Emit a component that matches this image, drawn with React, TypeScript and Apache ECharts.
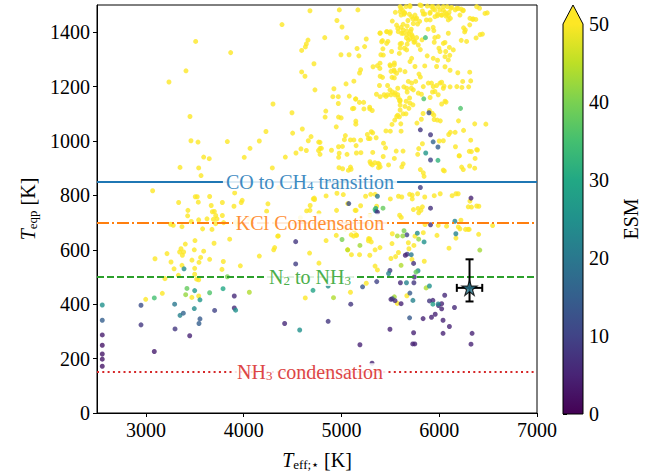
import React, { useEffect, useRef } from "react";
import * as echarts from "echarts";

// ---------- data ----------
const xTicks = [3000, 4000, 5000, 6000, 7000];
const yTicks = [0, 200, 400, 600, 800, 1000, 1200, 1400];
const esmTicks = [0, 10, 20, 30, 40, 50];

// planets with ESM above the colour-bar maximum (>= 50): [Teff, Teq]
const highEsmPlanets: [number, number][] = [
  [4978,1482],[5168,1482],[4954,1443],[5006,1419],[4829,1380],[5054,1380],[5254,1375],[5237,1347],[4995,1317],[5078,1317],
  [5178,1313],[5396,1397],[5466,1402],[5500,1402],[5420,1369],[5475,1366],[5424,1339],[5403,1317],[5520,1441],[5551,1473],
  [5610,1488],[5625,1480],[5645,1472],[5600,1476],[5660,1494],[5700,1498],[5640,1466],[5695,1466],[5680,1443],[5730,1449],
  [5760,1448],[5576,1414],[5610,1418],[5631,1429],[5672,1423],[5714,1411],[5668,1405],[5631,1396],[5693,1394],[5720,1390],
  [5735,1373],[5700,1377],[5665,1379],[5742,1363],[5672,1356],[5645,1341],[5600,1342],[5600,1357],[5769,1380],[5824,1372],
  [5807,1336],[5955,1380],[5949,1363],[5997,1341],[6059,1362],[6104,1344],[6066,1329],[6108,1315],[5983,1297],[5877,1313],
  [5852,1276],[6059,1273],[6111,1260],[6190,1251],[6280,1366],[6225,1370],[6249,1416],[6260,1401],[6267,1408],[6312,1427],
  [6346,1449],[6374,1447],[6377,1379],[6418,1391],[6442,1393],[6491,1471],[6412,1488],[6225,1485],[6243,1479],[6180,1488],
  [6164,1482],[6118,1488],[6101,1473],[6114,1451],[6094,1461],[6073,1466],[6059,1473],[6025,1463],[5983,1461],[5955,1482],
  [5921,1494],[5990,1494],[6042,1494],[6007,1482],[5852,1467],[5907,1473],[5938,1485],[5828,1478],[5817,1498],[5869,1445],
  [5907,1445],[5779,1430],[5886,1411],[5938,1418],[5945,1406],[5770,1452],[5800,1440],
  [5600,1494],[5610,1463],[5646,1470],[5701,1494],[5718,1457],[5735,1432],[5752,1463],[5803,1500],[5837,1467],[5878,1496],
  [5905,1469],[5939,1494],[5956,1457],[5984,1467],[6024,1463],[6042,1481],[6069,1459],[6082,1494],[6093,1445],[6127,1491],
  [6195,1487],[6212,1463],[6246,1481],[6314,1451],[6342,1447],[6383,1494],[6468,1469],
  [5564,1426],[5581,1402],[5615,1396],[5632,1408],[5667,1390],[5684,1371],[5707,1402],[5728,1384],[5752,1365],[5786,1353],
  [5615,1359],[5592,1322],[5667,1335],[5701,1292],[5718,1304],[5752,1274],[5496,1396],[5462,1402],[5394,1396],[5411,1365],
  [5462,1359],[5513,1329],[5428,1316],[5394,1286],[5496,1280],[5537,1261],[5564,1249],[5598,1261],[5650,1255],
  [5684,1219],[5718,1213],[5667,1194],[5735,1188],[5786,1176],[5837,1200],[5888,1213],[5939,1200],[6008,1213],[6042,1194],
  [5496,1188],[5547,1170],[5598,1151],[5650,1127],[5701,1139],[5990,1384],[6042,1359],[6093,1396],[6144,1335],[6008,1329],
  [6059,1310],[6093,1298],[5939,1304],[5973,1274],
  [4678,1479],[4392,1428],[3509,1366],[3867,1325],[4658,1371],[4641,1357],[4631,1346],[4593,1333],[4719,1284],[4593,1254],
  [4627,1238],[3410,1258],[3236,1217],[4729,1188],[4300,1136],[4494,1104],[3451,1090],[5080,1165],[5185,1250],[5160,1340],
  [5323,1273],[5368,1277],[5393,1267],[5196,1262],[5127,1220],[5047,1210],[4923,1192],[4912,1163],[4968,1163],[4968,1138],
  [5144,1154],[5184,1142],[5227,1142],[5289,1124],[5358,1172],[5396,1163],[5420,1234],[5396,1238],[5500,1276],[5541,1280],
  [5507,1256],[5541,1256],[5517,1234],[5541,1232],[5541,1287],[5389,1204],[5472,1204],[5437,1170],[5472,1170],[5506,1170],
  [5455,1164],[5576,1194],[5596,1147],[5600,1132],[5576,1170],[5520,1180],[5550,1177],[5580,1160],[6025,1136],[6059,1146],
  [6070,1143],[5907,1160],[5931,1180],[5807,1235],[5793,1246],[5714,1194],[5759,1219],[5638,1199],[5672,1180],[5600,1148],
  [5662,1146],[5697,1158],[5731,1133],[5818,1172],[5956,1182],[5990,1170],[5973,1204],[5921,1213],[6025,1216],[6049,1202],
  [6111,1199],[6180,1200],[6232,1197],[6240,1219],[6301,1199],[6322,1221],[6312,1253],[5147,1155],[5113,1119],[5230,1118],
  [5600,1114],[5690,1120],
  [4840,1110],[4970,1088],[4997,1085],[5147,1073],[5147,1062],[4947,1052],[4833,1088],[5127,1120],[5290,1118],[5315,1112],
  [4781,995],[4781,973],[5040,1020],[5030,1005],[5092,1004],[5127,1004],[4970,979],[5010,980],[4898,966],[4977,955],
  [4971,940],[5057,951],[5150,983],[5153,956],[5196,1003],[5199,957],[5265,1024],[5305,1034],[5320,1030],[5275,1009],
  [5292,1009],[5355,1012],[5430,992],[5320,958],[5455,1037],[5500,1036],[5545,1077],[5565,1090],[5593,1089],[5576,1095],
  [5631,1100],[5660,1100],[5607,1063],[5610,1036],[5517,1061],[5560,963],[5630,963],[5541,936],[5631,916],[5617,905],
  [5482,912],[5427,943],[5451,975],[5386,915],[5396,905],[5375,918],[5292,924],[5299,917],[5316,912],[5341,920],
  [5379,902],[4975,902],[5012,898],[5071,892],[5099,896],[5092,904],[4795,973],[4781,951],[5772,1066],[5817,1080],
  [5835,1101],[5900,1112],[5928,1102],[5945,1095],[5980,1077],[6011,1074],[5948,1079],[5780,951],[5807,895],[5790,972],
  [5828,990],[6000,1000],[6042,1001],[6097,1024],[6114,1032],[6163,1032],[6197,1074],[6249,1039],[6322,1003],[6363,1063],
  [6477,1062],[6166,979],[6204,945],[6329,961],[6391,967],[6367,936],[6229,904],[6311,908],[6363,900],[6052,890],
  [5845,870],[6307,962],[6383,968],[6205,946],[6246,895],[6041,893],[5837,883],
  [4228,1035],[4501,1029],[4600,1044],[4689,1016],[4661,1001],[4767,996],[3461,1001],[3533,996],[3833,998],[4160,1000],
  [4065,973],[4586,971],[4641,965],[4535,956],[4766,965],[3591,941],[3648,935],[4006,940],[4426,941],[3349,903],
  [3540,901],[3564,873],[4293,901],
  [3069,817],[4061,829],[4358,829],[3505,795],[3525,795],[3652,796],[3335,774],[3908,809],[3782,774],[3975,774],
  [3985,782],[3901,760],[4712,787],[4725,785],[4680,763],[4644,743],[3536,775],[3430,745],[3680,740],[4057,714],
  [4235,742],[4248,769],[4580,718],[4678,745],[4722,790],[4770,736],[4978,836],[5019,803],[5040,677],[5131,673],
  [5150,745],[5291,726],[5267,693],[5278,641],[5155,653],[5290,580],[5394,608],[5506,568],[5554,575],[5684,626],
  [5752,650],[5837,663],[5721,565],[5847,558],[5990,690],[6075,687],[6212,677],[6222,709],[6294,675],[6403,657],
  [6297,758],[6314,779],[6383,761],[6171,806],[6010,806],[4354,651],[4317,608],
  [3253,694],[3369,685],[3427,725],[3464,704],[3580,677],[3625,714],[3676,675],[3700,741],[3714,726],[3727,714],
  [3782,726],[3795,700],[3668,763],[3280,690],[3540,710],[3690,712],[3713,696],[3918,702],[3938,693],
  [4843,798],[4954,808],[5064,770],[5196,762],[5247,797],[5299,804],[5344,804],[5500,787],[5583,797],[5617,794],
  [5697,804],[5724,801],[5724,787],[5779,806],[5852,794],[5949,799],[6132,799],[6194,806],[6330,757],[6405,760],
  [5783,752],[5828,758],[5360,760],[5140,745],[4950,745],
  [3093,567],[3195,494],[3257,555],[3288,530],[3332,506],[3216,586],[3345,592],[3359,604],[3386,592],[3373,580],
  [3403,621],[3502,634],[3495,600],[3471,562],[3369,543],[3499,532],[3499,510],[3543,554],[3560,572],[3591,595],
  [3652,565],[3697,624],[3792,557],[3778,528],[3857,639],[3966,541],[4160,577],[4307,600],[4348,650],[4674,588],
  [4770,551],[3540,430],[3519,492],[3540,490],[2998,418],[3168,440],[4630,423],[3470,425],
  [4843,634],[4947,653],[5100,655],[5125,650],[5150,655],[5290,640],[5276,633],[5305,629],[5517,623],[5064,600],
  [5102,582],[5185,582],[5344,600],[5583,590],[5741,616],[5690,604],[6100,606],[5520,659],[5977,653],[5344,540],
  [5368,526],[5254,477],[5092,444],[5572,403],[5669,431],[6171,643],[6546,689],[6195,684],[6269,675],[6306,675],
  [5855,693],[5595,727],[5612,719],[5790,736],[5813,745],[5736,748]
];

// planets with ESM below 50: [Teff, Teq, ESM]
const lowEsmPlanets: [number, number, number][] = [
  [2554,397,25],[2554,341,15],[2554,287,4],[2554,249,3],[2554,217,3],[2554,198,3],[2554,172,3],
  [2950,396,12],[2950,324,8],[3086,226,4],[3086,423,35],[3294,400,20],[3298,309,8],[3349,359,22],[3383,367,16],
  [3448,284,5],[3420,458,38],[3407,435,42],[3390,530,24],[3499,450,27],[3495,384,24],[3553,416,26],[3553,346,14],
  [3543,329,15],[3652,442,36],[3703,377,10],[3789,457,30],[3833,501,40],[3904,430,6],[3904,386,6],[3918,378,25],
  [4058,444,44],[4419,329,6],[4573,305,25],[4532,630,8],[4532,548,9],[4709,451,29],
  [5859,1380,35],[5842,1155,36],[6218,1120,36],[5895,1104,12],[5807,1041,8],[5911,1023,8],[5938,997,16],[5987,978,15],
  [5862,956,26],[5911,930,10],[5987,929,32],[5807,829,9],[6325,790,5],[5911,753,7],[5368,797,20],[5075,770,12],
  [5351,752,30],[5425,753,38],[5343,748,36],[5353,742,22],
  [5368,738,7],[6160,705,22],[5911,692,7],[6170,659,22],[5776,661,24],[5845,629,25],[5669,655,10],[5627,651,42],
  [5572,651,44],[5640,670,40],[5790,639,42],[5006,638,40],[5189,616,43],[5063,600,45],[5672,584,9],[5714,582,20],
  [5653,580,5],[6415,599,43],[5738,550,7],[5610,543,44],[5496,524,9],[5482,513,22],[5783,523,24],[5762,518,38],
  [5745,500,6],[5361,483,10],[5216,464,13],[5603,479,6],[5665,479,22],[5741,479,8],[5866,460,44],[5900,467,25],
  [4919,424,44],[5095,400,8],[5541,427,43],[5520,420,12],[5506,418,6],[5548,413,6],[5610,402,5],[5700,441,14],
  [5731,414,22],[5935,414,6],[5900,412,8],[5935,400,28],[5993,395,6],[6025,402,5],[6056,433,6],[6025,383,5],
  [6156,388,6],[4864,467,24],[5990,401,22],
  [4864,337,8],[5697,350,14],[5835,347,5],[5921,352,5],[5959,363,5],[6039,341,5],[6104,318,5],[5496,308,5],
  [5738,295,5],[6039,293,5],[6336,293,5],[5189,251,5],[5729,254,5],[5750,254,5],[6325,253,5],[5313,183,5]
];

// target planet with error bars
const targetTeff = 6310;
const targetTeq = 460;
const targetEsm = 20;
const targetTeffErr = [130, 130]; // [minus, plus]
const targetTeqErr = [50, 105]; // [minus, plus]

// chemical transition lines
const lineLevels = [850, 700, 500, 150];
const lineLabels = [
  "{t|CO to CH}{s|4}{t| transition}",
  "{t|KCl Condensation}",
  "{t|N}{s|2}{t| to NH}{s|3}",
  "{t|NH}{s|3}{t| condensation}",
];

// ---------- styles ----------
const lineColors = ["#1f77b4", "#ff7f0e", "#2ca02c", "#d62728"];
const labelColors = ["#3f8bc2", "#ff9035", "#4cb04c", "#dd4646"];
const lineDashes: any[] = ["solid", [12, 3, 2, 3], [7, 3], [2, 3.3]];
const FONT = "Liberation Serif, DejaVu Serif, serif";

const VIRIDIS = [
  "#440154", "#482475", "#414487", "#355f8d", "#2a788e", "#21918c",
  "#22a884", "#44bf70", "#7ad151", "#bddf26", "#fde725",
];

function hexToRgb(h: string) {
  return [parseInt(h.slice(1, 3), 16), parseInt(h.slice(3, 5), 16), parseInt(h.slice(5, 7), 16)];
}
function viridis(t: number) {
  const c = Math.max(0, Math.min(1, t)) * (VIRIDIS.length - 1);
  const i = Math.min(Math.floor(c), VIRIDIS.length - 2);
  const f = c - i;
  const a = hexToRgb(VIRIDIS[i]);
  const b = hexToRgb(VIRIDIS[i + 1]);
  const m = a.map((v, k) => Math.round(v + (b[k] - v) * f));
  return `rgb(${m[0]},${m[1]},${m[2]})`;
}
const ESM_MAX = 50;

const STAR =
  "path://M50,0 L61.8,35.4 L99,35.4 L69,57.3 L80.4,92.7 L50,70.8 L19.6,92.7 L31,57.3 L1,35.4 L38.2,35.4 Z";

const plain = (v: number) => String(v);

export default function App() {
  const ref = useRef<HTMLDivElement>(null);
  useEffect(() => {
    if (!ref.current) return;
    const chart = echarts.init(ref.current, undefined, { renderer: "svg" });

    const highData = highEsmPlanets.map((p) => ({
      value: [p[0], p[1]],
      itemStyle: { color: viridis(1) },
    }));
    const lowData = lowEsmPlanets.map((p) => ({
      value: [p[0], p[1]],
      itemStyle: { color: viridis(p[2] / ESM_MAX) },
    }));

    const nameRich = {
      t: { fontSize: 20, fontFamily: FONT, color: "#000" },
      s: { fontSize: 13, fontFamily: FONT, color: "#000", padding: [9, 0, 0, 0] },
      i: { fontSize: 20, fontFamily: FONT, color: "#000", fontStyle: "italic" },
    };

    const markLineData = lineLevels.map((lv, k) => ({
      yAxis: lv,
      lineStyle: { color: lineColors[k], type: lineDashes[k], width: 2 },
      label: {
        show: true,
        position: "insideMiddle",
        distance: 0,
        offset: [-7, 0],
        formatter: lineLabels[k],
        color: labelColors[k],
        fontFamily: FONT,
        fontSize: 20,
        backgroundColor: "rgba(255,255,255,0.85)",
        padding: [0, 3, 0, 3],
        rich: {
          t: { fontSize: 20, fontFamily: FONT, color: labelColors[k], lineHeight: 18 },
          s: { fontSize: 13, fontFamily: FONT, color: labelColors[k], lineHeight: 11, padding: [7, 0, 0, 0] },
        },
      },
    }));

    const option: any = {
      animation: false,
      backgroundColor: "#fff",
      textStyle: { fontFamily: FONT },
      grid: [
        { left: 97, top: 5, width: 440, height: 409, show: true, borderColor: "#000", borderWidth: 1, backgroundColor: "transparent" },
        { left: 563, top: 24, width: 20, height: 390 },
      ],
      xAxis: [
        {
          type: "value",
          min: 2500,
          max: 7000,
          gridIndex: 0,
          axisLine: { show: true, lineStyle: { color: "#000", width: 1 } },
          axisTick: { show: true, customValues: xTicks, length: 4, lineStyle: { color: "#000" } },
          axisLabel: { customValues: xTicks, formatter: plain, color: "#000", fontSize: 20, fontFamily: FONT, margin: 7 },
          splitLine: { show: false },
          name: "{i|T}{s|eff;⋆}{t| [K]}",
          nameLocation: "middle",
          nameGap: 36,
          nameTextStyle: { color: "#000", fontSize: 20, fontFamily: FONT, rich: nameRich },
        },
        { type: "value", gridIndex: 1, show: false, min: 0, max: 1 },
      ],
      yAxis: [
        {
          type: "value",
          min: 0,
          max: 1500,
          gridIndex: 0,
          axisLine: { show: true, lineStyle: { color: "#000", width: 1 } },
          axisTick: { show: true, customValues: yTicks, length: 4, lineStyle: { color: "#000" } },
          axisLabel: { customValues: yTicks, formatter: plain, color: "#000", fontSize: 20, fontFamily: FONT, margin: 7 },
          splitLine: { show: false },
          name: "{i|T}{s|eqp}{t| [K]}",
          nameLocation: "middle",
          nameGap: 58,
          nameTextStyle: { color: "#000", fontSize: 20, fontFamily: FONT, rich: nameRich },
        },
        {
          type: "value",
          gridIndex: 1,
          min: esmTicks[0],
          max: esmTicks[esmTicks.length - 1],
          interval: 10,
          position: "right",
          axisLine: { show: false },
          axisTick: { show: true, length: 4, lineStyle: { color: "#000" } },
          axisLabel: { formatter: plain, color: "#000", fontSize: 20, fontFamily: FONT, margin: 6 },
          splitLine: { show: false },
          name: "ESM",
          nameLocation: "middle",
          nameGap: 38,
          nameTextStyle: { color: "#000", fontSize: 20, fontFamily: FONT },
        },
      ],
      graphic: [
        {
          type: "rect",
          shape: { x: 563, y: 24, width: 20, height: 390 },
          style: {
            fill: new echarts.graphic.LinearGradient(
              0, 1, 0, 0,
              VIRIDIS.map((c, i) => ({ offset: i / (VIRIDIS.length - 1), color: c }))
            ),
          },
          z: 1,
        },
        {
          type: "polygon",
          shape: { points: [[563, 24], [583, 24], [573, 5]] },
          style: { fill: VIRIDIS[VIRIDIS.length - 1] },
          z: 1,
        },
        {
          type: "polyline",
          shape: { points: [[563, 414], [563, 24], [573, 5], [583, 24], [583, 414], [563, 414]] },
          style: { stroke: "#000", lineWidth: 1, fill: "none" },
          z: 2,
        },
      ],
      series: [
        { type: "scatter", xAxisIndex: 0, yAxisIndex: 0, symbolSize: 5, data: highData, z: 2 },
        { type: "scatter", xAxisIndex: 0, yAxisIndex: 0, symbolSize: 5, data: lowData, z: 3 },
        {
          type: "line",
          xAxisIndex: 0,
          yAxisIndex: 0,
          data: [],
          z: 5,
          markLine: { silent: true, symbol: ["none", "none"], data: markLineData },
        },
        {
          type: "custom",
          xAxisIndex: 0,
          yAxisIndex: 0,
          z: 6,
          data: [[
            targetTeff,
            targetTeq,
            targetTeff - targetTeffErr[0],
            targetTeff + targetTeffErr[1],
            targetTeq - targetTeqErr[0],
            targetTeq + targetTeqErr[1],
          ]],
          renderItem: (params: any, api: any) => {
            const x = api.value(0), y = api.value(1);
            const c = api.coord([x, y]);
            const xl = api.coord([api.value(2), y]);
            const xh = api.coord([api.value(3), y]);
            const yl = api.coord([x, api.value(4)]);
            const yh = api.coord([x, api.value(5)]);
            const cap = 4;
            const st = { stroke: "#000", lineWidth: 2 };
            return {
              type: "group",
              children: [
                { type: "line", shape: { x1: xl[0], y1: c[1], x2: xh[0], y2: c[1] }, style: st },
                { type: "line", shape: { x1: c[0], y1: yl[1], x2: c[0], y2: yh[1] }, style: st },
                { type: "line", shape: { x1: xl[0], y1: c[1] - cap, x2: xl[0], y2: c[1] + cap }, style: st },
                { type: "line", shape: { x1: xh[0], y1: c[1] - cap, x2: xh[0], y2: c[1] + cap }, style: st },
                { type: "line", shape: { x1: c[0] - cap, y1: yl[1], x2: c[0] + cap, y2: yl[1] }, style: st },
                { type: "line", shape: { x1: c[0] - cap, y1: yh[1], x2: c[0] + cap, y2: yh[1] }, style: st },
              ],
            };
          },
        },
        {
          type: "scatter",
          xAxisIndex: 0,
          yAxisIndex: 0,
          symbol: STAR,
          symbolSize: 15,
          z: 7,
          itemStyle: { color: viridis(targetEsm / ESM_MAX), borderColor: "#000", borderWidth: 1.2 },
          data: [[targetTeff, targetTeq]],
        },
      ],
    };

    chart.setOption(option);
    return () => chart.dispose();
  }, []);

  return (
    <div
      ref={ref}
      style={{ position: "fixed", left: 0, top: 0, width: 654, height: 476, background: "#fff" }}
    />
  );
}
